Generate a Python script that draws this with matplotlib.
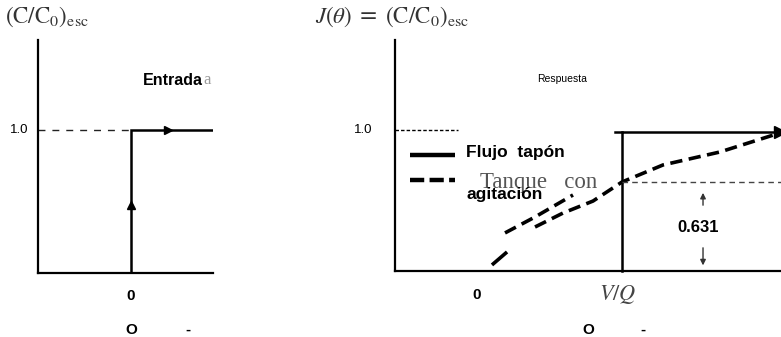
import matplotlib
matplotlib.use("Agg")
import matplotlib.pyplot as plt

plt.rcParams['mathtext.fontset'] = 'stix'

# ---- data ----
# left panel: step input
step_x = [0.0, 0.0, 0.88]
step_y = [0.0, 1.0, 1.0]
left_ref_x = [-1.0, 0.0]
left_ref_y = [1.0, 1.0]

# right panel: plug flow response
plug_x = [1.0, 1.0, 2.09]
plug_y = [0.0, 0.986, 0.986]
plug_cap_x = [0.95, 1.0]
# stirred tank response (dashed)
tank_seg1_x = [0.103, 0.207]
tank_seg1_y = [0.043, 0.135]
tank_segA_x = [0.193, 0.40, 0.662]
tank_segA_y = [0.27, 0.383, 0.539]
tank_main_x = [0.40, 0.593, 0.80, 1.0, 1.283, 1.676, 2.09]
tank_main_y = [0.312, 0.411, 0.496, 0.631, 0.752, 0.844, 0.979]
level_631 = 0.631
right_ref_x = [-0.566, -0.13]
right_ref_y = [1.0, 1.0]

W, H = 781, 337
fig = plt.figure(figsize=(W / 100, H / 100), dpi=100)

def px_axes(x0, y_bottom, x1, y_top):
    return fig.add_axes([x0 / W, (H - y_bottom) / H, (x1 - x0) / W, (y_bottom - y_top) / H])

bold = dict(family='Liberation Sans', weight='bold')

# ---------------- left panel ----------------
axL = px_axes(38, 273, 213, 40)
axL.set_xlim(-1.0, 0.882)
axL.set_ylim(0, 1.63)
for s in ['top', 'right']:
    axL.spines[s].set_visible(False)
for s in ['left', 'bottom']:
    axL.spines[s].set_linewidth(1.6)
axL.set_xticks([]); axL.set_yticks([])

axL.plot(step_x, step_y, color='black', lw=1.8, solid_joinstyle='miter')
axL.plot(left_ref_x, left_ref_y, color='#222222', lw=1.0, dashes=(5, 5))
axL.plot([0.0], [0.475], marker='^', color='black', ms=6, clip_on=False)
axL.plot([0.40], [1.0], marker='>', color='black', ms=6, clip_on=False)

axL.text(0.82, 1.35, 'a', family='Liberation Serif', fontsize=12,
         color='#9a9a9a', ha='center', va='center', clip_on=False)
axL.text(0.45, 1.35, 'Entrada', fontsize=11.5, ha='center', va='center', **bold)
axL.text(-1.2, 1.0, '1.0', fontsize=9.5, ha='center', va='center',
         family='Liberation Sans', clip_on=False)
axL.text(0.0, -0.16, '0', fontsize=11, ha='center', va='center', clip_on=False, **bold)
axL.text(0.0, -0.40, 'O', fontsize=11, ha='center', va='center', clip_on=False, **bold)
axL.text(0.61, -0.40, '-', fontsize=11, ha='center', va='center', clip_on=False, **bold)

fig.text(5 / W, (H - 17) / H, r'$\mathrm{(C/C_0)_{esc}}$', fontsize=16.5,
         color='#333333', ha='left', va='center')

# ---------------- right panel ----------------
axR = px_axes(395, 271, 781, 40)
axR.set_xlim(-0.566, 2.097)
axR.set_ylim(0, 1.638)
for s in ['top', 'right']:
    axR.spines[s].set_visible(False)
for s in ['left', 'bottom']:
    axR.spines[s].set_linewidth(1.6)
axR.set_xticks([]); axR.set_yticks([])

axR.plot(plug_x, plug_y, color='black', lw=1.8, solid_joinstyle='miter', clip_on=False)
axR.plot(plug_cap_x, [plug_y[1]] * 2, color='black', lw=1.8)
axR.plot([plug_x[-1]], [plug_y[-1]], marker='>', color='black', ms=8, clip_on=False)

tank_style = dict(color='black', lw=2.6, dashes=(3.4, 1.8), clip_on=False)
axR.plot(tank_seg1_x, tank_seg1_y, color='black', lw=2.6, solid_capstyle='butt')
axR.plot(tank_segA_x, tank_segA_y, **tank_style)
axR.plot(tank_main_x, tank_main_y, **tank_style)

axR.plot([1.0, 2.097], [level_631, level_631], color='#444444', lw=1.0, dashes=(4, 3))
axR.plot(right_ref_x, right_ref_y, color='black', lw=1.0, dashes=(2.5, 1.5))

# 0.631 annotation
axR.annotate('', xy=(1.559, 0.574), xytext=(1.559, 0.447),
             arrowprops=dict(arrowstyle='-|>', color='#333333', lw=1.0, mutation_scale=8))
axR.annotate('', xy=(1.559, 0.02), xytext=(1.559, 0.184),
             arrowprops=dict(arrowstyle='-|>', color='#333333', lw=1.0, mutation_scale=8))
axR.text(1.524, 0.305, '0.631', fontsize=12, ha='center', va='center', **bold)

# legend
axR.plot([-0.462, -0.152], [0.823, 0.823], color='black', lw=3.2, solid_capstyle='butt')
axR.plot([-0.462, -0.152], [0.645, 0.645], color='black', lw=3.2, dashes=(3.2, 1.2))
axR.text(-0.075, 0.837, 'Flujo  tapón', fontsize=12.5, ha='left', va='center', **bold)
axR.text(0.02, 0.625, 'Tanque   con', family='Liberation Serif', fontsize=16.5,
         color='#555555', ha='left', va='center')
axR.text(-0.075, 0.54, 'agitación', fontsize=12.5, ha='left', va='center', **bold)

axR.text(0.59, 1.36, 'Respuesta', fontsize=7.5, ha='center', va='center',
         family='Liberation Sans')
axR.text(-0.786, 1.0, '1.0', fontsize=9.5, ha='center', va='center',
         family='Liberation Sans', clip_on=False)
axR.text(0.0, -0.17, '0', fontsize=11, ha='center', va='center', clip_on=False, **bold)
axR.text(0.97, -0.17, r'$V/Q$', fontsize=16, color='#444444', ha='center', va='center',
         clip_on=False)
axR.text(0.766, -0.418, 'O', fontsize=11, ha='center', va='center', clip_on=False, **bold)
axR.text(1.145, -0.418, '-', fontsize=11, ha='center', va='center', clip_on=False, **bold)

fig.text(315 / W, (H - 17) / H, r'$J(\theta)$ = $\mathrm{(C/C_0)_{esc}}$', fontsize=16.5,
         color='#333333', ha='left', va='center')

fig.savefig('out.png', dpi=100)
